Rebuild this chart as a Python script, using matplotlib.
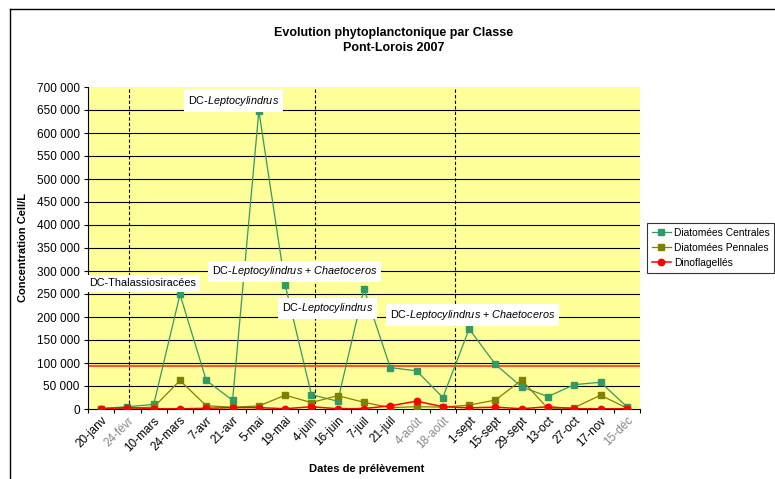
import matplotlib
matplotlib.use("Agg")
import matplotlib.pyplot as plt
from matplotlib.lines import Line2D
from matplotlib.ticker import FuncFormatter, MultipleLocator
import numpy as np

plt.rcParams['font.family'] = ['Liberation Sans', 'DejaVu Sans']
plt.rcParams['mathtext.fontset'] = 'custom'
plt.rcParams['mathtext.rm'] = 'Liberation Sans'
plt.rcParams['mathtext.it'] = 'Liberation Sans:italic'

# dates de prélèvement
dates = ['20-janv', '24-févr', '10-mars', '24-mars', '7-avr', '21-avr', '5-mai',
         '19-mai', '4-juin', '16-juin', '7-juil', '21-juil', '4-août', '18-août',
         '1-sept', '15-sept', '29-sept', '13-oct', '27-oct', '17-nov', '15-déc']
grey_dates = ['24-févr', '4-août', '18-août', '15-déc']

centrales = [1000, 5000, 10000, 249000, 62000, 19000, 648000, 270000, 31000, 17000,
             261000, 90000, 83000, 25000, 174000, 97000, 48000, 27000, 53000, 58000, 5000]
pennales = [1000, 2000, 4000, 62000, 7000, 4000, 6500, 30000, 14000, 29000,
            14500, 3000, 5000, 4000, 8500, 19500, 63000, 1000, 3000, 30000, 2000]
dinos = [500, 3000, 500, 500, 1500, 3000, 3000, 500, 5000, 500,
         1000, 7000, 17000, 5000, 2500, 4000, 500, 5000, 500, 500, 500]

seuil = 94000
separations = [1.06, 8.14, 13.45]

# annotations : (texte, x, y)
notes = [
    (r'DC-$Leptocylindrus$', 3.31, 670000),
    (r'DC-Thalassiosiracées', -0.46, 273000),
    (r'DC-$Leptocylindrus$ + $Chaetoceros$', 4.21, 299000),
    (r'DC-$Leptocylindrus$', 6.87, 218500),
    (r'DC-$Leptocylindrus$ + $Chaetoceros$', 10.99, 204300),
]

fig = plt.figure(figsize=(7.75, 4.79), dpi=100)
ax = fig.add_axes([88 / 775, 1 - 409 / 479, 552 / 775, 322 / 479])
ax.set_facecolor('#FFFF99')

x = np.arange(len(dates))

for v in np.arange(50000, 700000, 50000):
    ax.axhline(v, color='black', lw=0.8, zorder=1)
for s in separations:
    ax.axvline(s, color='black', lw=0.8, ls=(0, (3, 2)), zorder=1)
ax.axhline(seuil, color='#FF5533', lw=1.5, zorder=2)

ax.plot(x, centrales, color='#339966', lw=0.9, marker='s', ms=4.2,
        label='Diatomées Centrales', zorder=3)
ax.plot(x, pennales, color='#808000', lw=0.9, marker='s', ms=4.2,
        label='Diatomées Pennales', zorder=4)
ax.plot(x, dinos, color='#FF0000', lw=1.1, marker='o', ms=4.6,
        label='Dinoflagellés', zorder=5)

for txt, tx, ty in notes:
    ax.text(tx, ty, txt, fontsize=7.8, va='center', ha='left', zorder=6,
            bbox=dict(boxstyle='square,pad=0.35', fc='white', ec='none'))

ax.set_xlim(-0.5, len(dates) - 0.5)
ax.set_ylim(0, 700000)
ax.yaxis.set_major_locator(MultipleLocator(50000))
ax.yaxis.set_major_formatter(FuncFormatter(lambda v, p: f'{int(v):,}'.replace(',', ' ')))
ax.tick_params(axis='y', direction='out', length=3, width=0.8, pad=3, labelsize=8.5)

ax.set_xticks(x)
ax.set_xticklabels(dates, rotation=45, ha='right', va='top', rotation_mode='anchor')
ax.set_xticks(np.arange(-0.5, len(dates)), minor=True)
ax.tick_params(axis='x', which='major', length=0, pad=4, labelsize=8.5)
ax.tick_params(axis='x', which='minor', direction='out', length=3, width=0.8)
for lab in ax.get_xticklabels():
    if lab.get_text() in grey_dates:
        lab.set_color('#888888')

for sp in ['top', 'right']:
    ax.spines[sp].set_visible(False)
ax.spines['left'].set_linewidth(0.8)
ax.spines['bottom'].set_linewidth(0.8)

ax.set_ylabel('Concentration Cell/L', fontsize=8, fontweight='bold')
ax.yaxis.set_label_coords(-0.108, 0.5)
ax.set_xlabel('Dates de prélèvement', fontsize=8, fontweight='bold')
ax.xaxis.set_label_coords(0.505, -0.17)

fig.text(394 / 775, 1 - 40.5 / 479, 'Evolution phytoplanctonique par Classe\nPont-Lorois 2007',
         ha='center', va='center', fontsize=9, fontweight='bold', linespacing=1.25)

leg = fig.legend(loc='upper left', bbox_to_anchor=(647 / 775, 1 - 223 / 479),
                 fontsize=7.4, frameon=True, fancybox=False, edgecolor='black',
                 handlelength=1.9, handletextpad=0.25, labelspacing=0.5,
                 borderpad=0.45, borderaxespad=0)
leg.get_frame().set_linewidth(0.8)

# cadre de la zone de graphique
fig.add_artist(Line2D([10 / 775, 1], [1 - 9 / 479, 1 - 9 / 479], color='black', lw=1))
fig.add_artist(Line2D([10 / 775, 10 / 775], [0, 1 - 9 / 479], color='black', lw=1))

fig.savefig('out.png', dpi=100)
